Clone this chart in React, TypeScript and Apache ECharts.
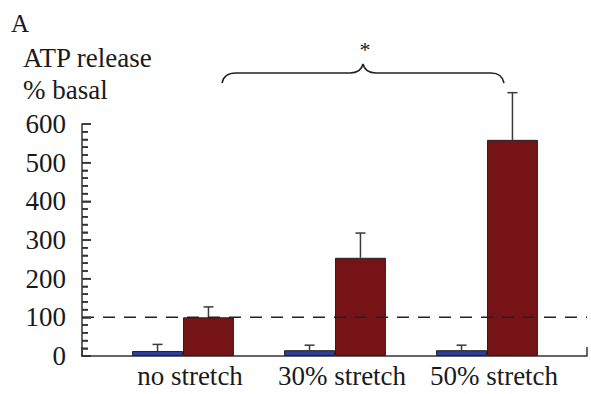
import React, { useEffect, useRef } from "react";
import * as echarts from "echarts";

const categories = ["no stretch", "30% stretch", "50% stretch"];
const controlMeans = [13, 15, 15];
const controlErrors = [17, 13, 13];
const stretchMeans = [100, 254, 559];
const stretchErrors = [27, 64, 122];
const baselineValue = 100;
const yMin = 0;
const yMax = 600;
const yInterval = 100;
const yTickValues = [
  0, 20, 40, 60, 80, 100, 120, 140, 160, 180, 200, 220, 240, 260, 280, 300,
  320, 340, 360, 380, 400, 420, 440, 460, 480, 500, 520, 540, 560, 580, 600,
];

const FONT = "Times New Roman, Liberation Serif, DejaVu Serif, serif";

const bracePath =
  "M222 83 Q224 73 236 73 L350 73 Q361 73 363 64 Q365 73 376 73 L491 73 Q502 73 504 83";
echarts.graphic.registerShape(
  "braceShape",
  (echarts.graphic as any).extendPath(bracePath, {})
);

export default function App() {
  const ref = useRef<HTMLDivElement>(null);
  useEffect(() => {
    if (!ref.current) return;
    const chart = echarts.init(ref.current, null, { renderer: "svg" });
    const gap = 0.33;
    const makeErr = (means: number[], errs: number[], side: number) => ({
      type: "custom",
      xAxisIndex: 0,
      yAxisIndex: 0,
      z: 1,
      data: means.map((m, i) => [i, m, m + errs[i]]),
      renderItem: (params: any, api: any) => {
        const i = api.value(0);
        const band = api.size([1, 0])[0];
        const bw = (band * (1 - gap)) / 2;
        const base = api.coord([i, api.value(1)]);
        const top = api.coord([i, api.value(2)]);
        const x = base[0] + (side * bw) / 2;
        const cap = 5;
        const style = { stroke: "#3a3a3a", lineWidth: 1.5 };
        return {
          type: "group",
          children: [
            { type: "line", shape: { x1: x, y1: base[1], x2: x, y2: top[1] }, style },
            { type: "line", shape: { x1: x - cap, y1: top[1], x2: x + cap, y2: top[1] }, style },
          ],
        };
      },
    });
    const textStyle = (size: number) => ({
      fontFamily: FONT,
      fontSize: size,
      fill: "#1a1a1a",
    });
    chart.setOption({
      animation: false,
      backgroundColor: "#ffffff",
      textStyle: { fontFamily: FONT },
      grid: [
        { left: 107, right: 28, top: 124, bottom: 38 },
        { left: 82, right: 4, top: 124, bottom: 38 },
      ],
      xAxis: [
        {
          type: "category",
          gridIndex: 0,
          data: categories,
          axisLine: { show: false },
          axisTick: { show: false },
          axisLabel: {
            interval: 0,
            fontFamily: FONT,
            fontSize: 27,
            color: "#1a1a1a",
            margin: 6,
            padding: [0, 0, 0, 14],
          },
        },
        {
          type: "value",
          gridIndex: 1,
          min: 0,
          max: 1,
          interval: 1,
          axisLine: { show: true, lineStyle: { color: "#333", width: 1.5 } },
          axisTick: { show: true, inside: true, length: 9, lineStyle: { color: "#333", width: 1.5 } },
          axisLabel: { show: false },
          splitLine: { show: false },
        },
      ],
      yAxis: [
        {
          type: "value",
          gridIndex: 0,
          min: yMin,
          max: yMax,
          interval: yInterval,
          show: false,
        },
        {
          type: "value",
          gridIndex: 1,
          min: yMin,
          max: yMax,
          interval: yInterval,
          axisLine: { show: true, lineStyle: { color: "#333", width: 1.5 } },
          axisTick: { show: true, inside: true, length: 9, lineStyle: { color: "#333", width: 1.5 } },
          minorTick: { show: true, splitNumber: 5, length: 6, lineStyle: { color: "#333", width: 1.5 } },
          axisLabel: { fontFamily: FONT, fontSize: 27, color: "#1a1a1a", margin: 16 },
          splitLine: { show: false },
        },
      ],
      graphic: [
        { type: "text", left: 11, top: 11, style: { text: "A", ...textStyle(25) } },
        { type: "text", left: 23, top: 44, style: { text: "ATP release", ...textStyle(27) } },
        { type: "text", left: 23, top: 76, style: { text: "% basal", ...textStyle(27) } },
        { type: "text", x: 365, y: 49, style: { text: "*", ...textStyle(22), align: "center", verticalAlign: "middle" } },
        { type: "braceShape", x: 0, y: 0, style: { fill: "none", stroke: "#222", lineWidth: 1.6 } },
      ],
      series: [
        {
          type: "line",
          xAxisIndex: 1,
          yAxisIndex: 1,
          data: [[0, baselineValue], [1, baselineValue]],
          symbol: "none",
          lineStyle: { color: "#222", width: 1.5, type: [12, 9] },
          z: 5,
        },
        {
          type: "custom",
          xAxisIndex: 1,
          yAxisIndex: 1,
          z: 6,
          silent: true,
          data: yTickValues.map((v) => [0, v]),
          renderItem: (params: any, api: any) => {
            const v = api.value(1);
            const p = api.coord([0, v]);
            const len = v % yInterval === 0 ? 9 : 6;
            return {
              type: "line",
              shape: { x1: p[0], y1: p[1], x2: p[0] + len, y2: p[1] },
              style: { stroke: "#333", lineWidth: 1.5 },
            };
          },
        },
        {
          type: "bar",
          xAxisIndex: 0,
          yAxisIndex: 0,
          data: controlMeans,
          barGap: "0%",
          barCategoryGap: "33%",
          itemStyle: { color: "#2c3e98", borderColor: "#222", borderWidth: 1 },
          z: 2,
        },
        {
          type: "bar",
          xAxisIndex: 0,
          yAxisIndex: 0,
          data: stretchMeans,
          barGap: "0%",
          barCategoryGap: "33%",
          itemStyle: { color: "#761316", borderColor: "#222", borderWidth: 1 },
          z: 2,
        },
        makeErr(controlMeans, controlErrors, -1),
        makeErr(stretchMeans, stretchErrors, 1),
      ],
    });
    return () => chart.dispose();
  }, []);
  return (
    <div
      ref={ref}
      style={{ position: "fixed", left: 0, top: 0, width: 591, height: 394 }}
    />
  );
}
